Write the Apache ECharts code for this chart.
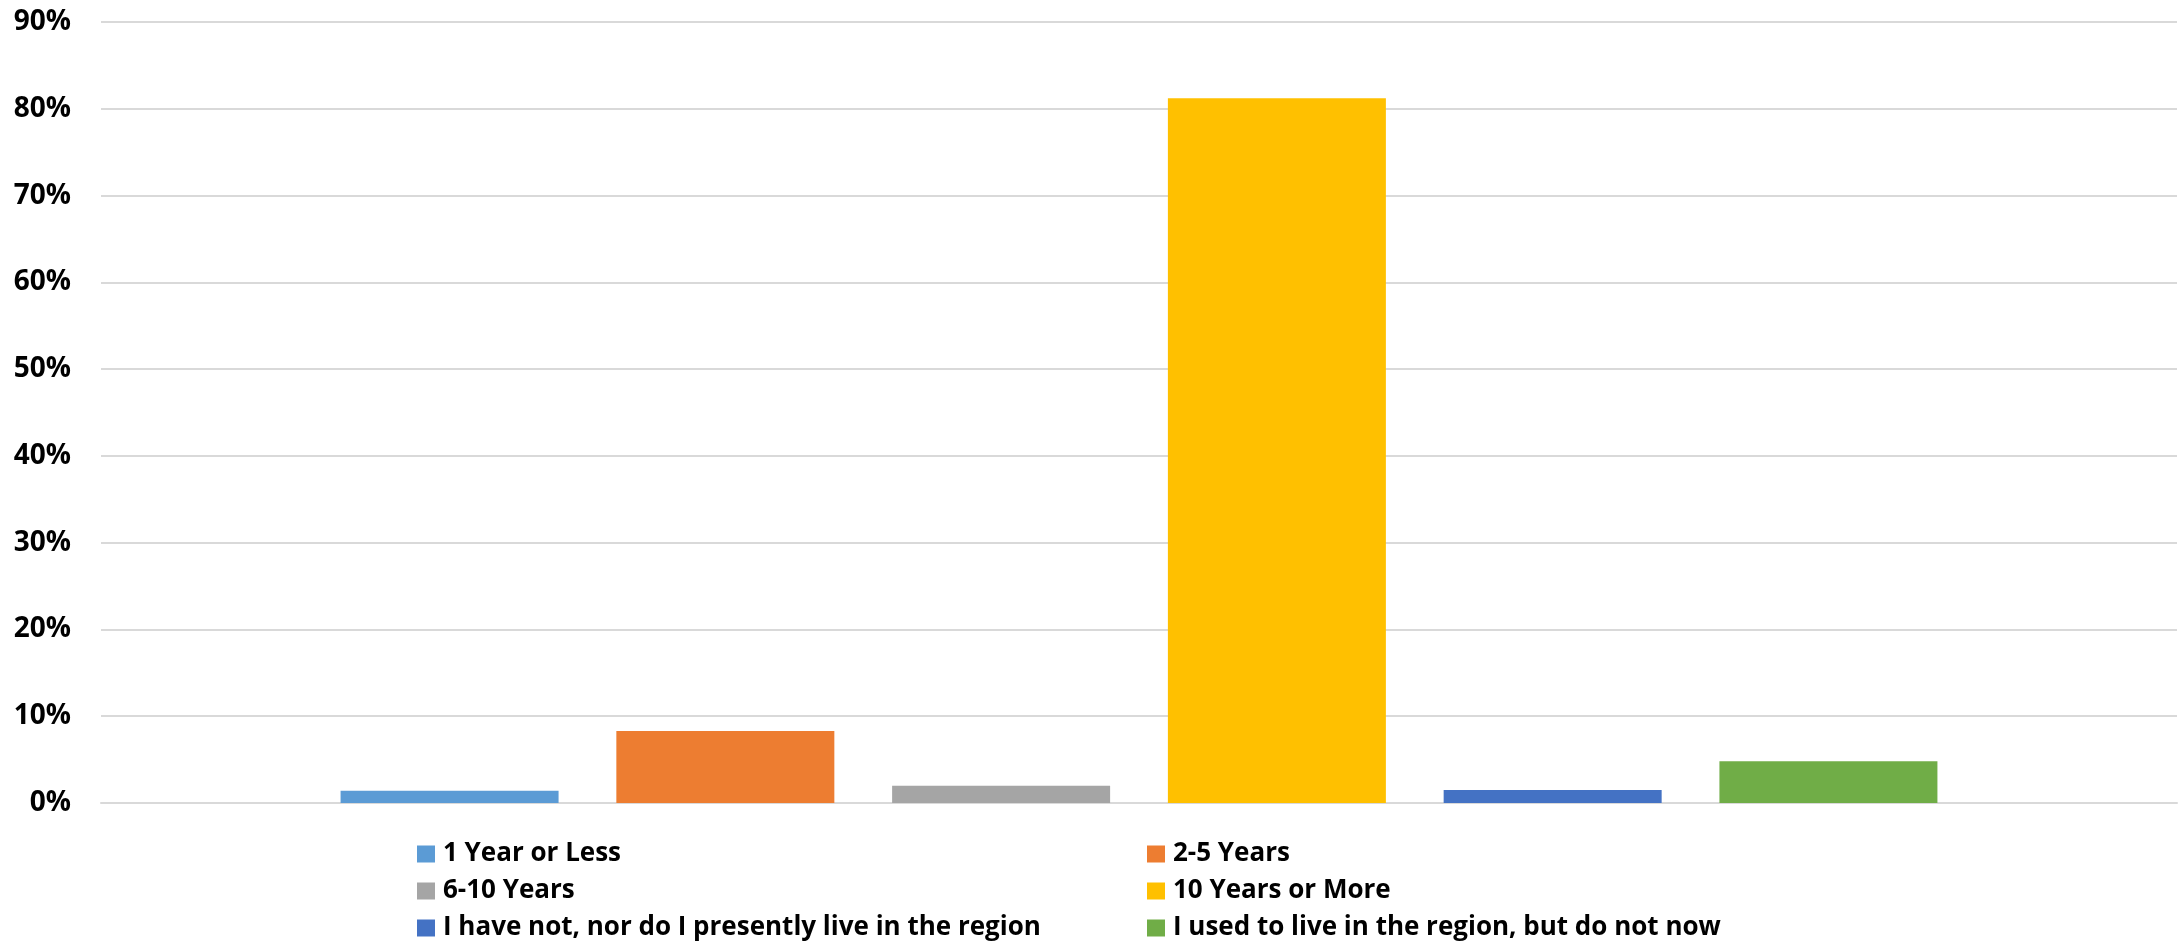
<!DOCTYPE html>
<html>
<head>
<meta charset="utf-8">
<script src="https://cdn.jsdelivr.net/npm/echarts@6/dist/echarts.min.js"></script>
<style>
  html, body { margin: 0; padding: 0; background: #fff; }
  #chart-container { width: 2183px; height: 942px; }
</style>
</head>
<body>
<div id="chart-container"></div>
<script>
// one category, one bar per answer
const categories = [''];
const seriesNames = [
	'1 Year or Less',
	'2-5 Years',
	'6-10 Years',
	'10 Years or More',
	'I have not, nor do I presently live in the region',
	'I used to live in the region, but do not now'
];
const seriesValues = [1.4, 8.3, 2.0, 81.2, 1.5, 4.8];
const seriesColors = ['#5b9bd5', '#ed7d31', '#a5a5a5', '#ffc000', '#4472c4', '#70ad47'];
const yTicks = [0, 10, 20, 30, 40, 50, 60, 70, 80, 90];

const font = '"Open Sans", Lato, sans-serif';

const myChart = echarts.init(document.getElementById('chart-container'));

const legendStyle = {
	orient: 'vertical',
	top: 836,
	height: 200,
	itemWidth: 18,
	itemHeight: 17,
	itemGap: 11,
	icon: 'rect',
	textStyle: {
		fontFamily: font,
		fontWeight: 'bold',
		fontSize: 26,
		color: '#000',
		padding: [0, 0, 0, 3]
	}
};

const option = {
	animation: false,
	backgroundColor: '#fff',
	grid: { left: 101, right: 6, top: 22, bottom: 139 },
	legend: [
		Object.assign({ left: 412, data: [seriesNames[0], seriesNames[2], seriesNames[4]] }, legendStyle),
		Object.assign({ left: 1142, data: [seriesNames[1], seriesNames[3], seriesNames[5]] }, legendStyle)
	],
	xAxis: {
		type: 'category',
		data: categories,
		axisLine: { show: true, lineStyle: { color: '#d9d9d9', width: 2 } },
		axisTick: { show: false },
		axisLabel: { show: false }
	},
	yAxis: {
		type: 'value',
		min: yTicks[0],
		max: yTicks[yTicks.length - 1],
		interval: 10,
		axisLine: { show: false },
		axisTick: { show: false },
		splitLine: { lineStyle: { color: '#d9d9d9', width: 2 } },
		axisLabel: {
			formatter: '{value}%',
			margin: 30,
			fontFamily: font,
			fontWeight: 'bold',
			fontSize: 28,
			color: '#000'
		}
	},
	series: seriesNames.map((name, i) => ({
		name: name,
		type: 'bar',
		data: [seriesValues[i]],
		barWidth: 218,
		barGap: '26.5%',
		itemStyle: { color: seriesColors[i] }
	}))
};

myChart.setOption(option);
</script>
</body>
</html>
